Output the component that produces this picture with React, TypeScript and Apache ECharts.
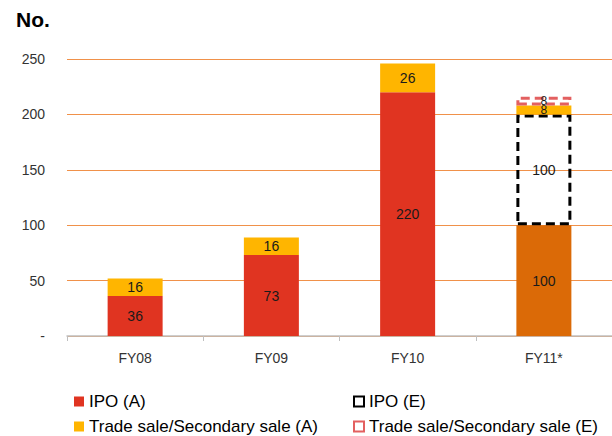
import React, { useEffect, useRef } from "react";
import * as echarts from "echarts";

const categories = ["FY08", "FY09", "FY10", "FY11*"];
const ipoActual = [36, 73, 220, 100];
const ipoEstimate = [null, null, null, 100];
const tradeActual = [16, 16, 26, 8];
const tradeEstimate = [null, null, null, 8];
const yTicks = { min: 0, max: 250, interval: 50 };

const FONT = "Liberation Sans, Arial, sans-serif";
const RED = "#E03421";
const YELLOW = "#FFB500";
const DARK_ORANGE = "#DB6A07";

export default function App() {
  const ref = useRef<HTMLDivElement>(null);

  useEffect(() => {
    if (!ref.current) return;
    const chart = echarts.init(ref.current, null, { renderer: "svg" });

    const label = {
      show: true,
      position: "inside" as const,
      color: "#1a1a1a",
      fontSize: 14,
      fontFamily: FONT,
    };
    // thin FY11 segments get a smaller label so the two stacked values stay legible
    const smallLabel = { ...label, fontSize: 12, lineHeight: 12 };

    const legendBase = {
      orient: "vertical" as const,
      top: 393,
      height: 43,
      padding: 0,
      itemWidth: 10,
      itemHeight: 10,
      itemGap: 8,
      icon: "rect",
      textStyle: { fontSize: 17, lineHeight: 17, color: "#000", fontFamily: FONT },
    };

    chart.setOption({
      animation: false,
      textStyle: { fontFamily: FONT },
      title: {
        text: "No.",
        left: 16,
        top: 9,
        padding: 0,
        textStyle: { fontSize: 21, fontWeight: "bold", color: "#000", fontFamily: FONT },
      },
      grid: { left: 67, top: 59, width: 560, height: 277 },
      legend: [
        { ...legendBase, left: 74, data: ["IPO (A)", "Trade sale/Secondary sale (A)"] },
        { ...legendBase, left: 353, data: ["IPO (E)", "Trade sale/Secondary sale (E)"] },
      ],
      xAxis: {
        type: "category",
        data: categories,
        axisLine: { lineStyle: { color: "#BFBFBF", width: 1.5 } },
        axisTick: { show: true, length: 5, lineStyle: { color: "#BFBFBF" } },
        axisLabel: { color: "#333", fontSize: 14, margin: 15, fontFamily: FONT },
      },
      yAxis: {
        type: "value",
        min: yTicks.min,
        max: yTicks.max,
        interval: yTicks.interval,
        axisLine: { show: false },
        axisTick: { show: false },
        axisLabel: {
          color: "#333",
          fontSize: 14,
          margin: 22,
          fontFamily: FONT,
          formatter: (v: number) => (v === 0 ? "-" : String(v)),
        },
        splitLine: { lineStyle: { color: "#F0914A", width: 1.2 } },
      },
      series: [
        {
          name: "IPO (A)",
          type: "bar",
          stack: "total",
          barWidth: 55,
          itemStyle: { color: RED },
          label,
          data: ipoActual.map((v, i) =>
            i === 3 ? { value: v, itemStyle: { color: DARK_ORANGE } } : v
          ),
        },
        {
          name: "IPO (E)",
          type: "bar",
          stack: "total",
          itemStyle: {
            color: "rgba(255,255,255,0)",
            borderColor: "#000",
            borderWidth: 3,
            borderType: [9, 5],
          },
          label,
          data: ipoEstimate.map((v) => (v === null ? "-" : v)),
        },
        {
          name: "Trade sale/Secondary sale (A)",
          type: "bar",
          stack: "total",
          itemStyle: { color: YELLOW },
          label,
          data: tradeActual.map((v, i) => (i === 3 ? { value: v, label: smallLabel } : v)),
        },
        {
          name: "Trade sale/Secondary sale (E)",
          type: "bar",
          stack: "total",
          itemStyle: {
            color: "rgba(255,255,255,0)",
            borderColor: "#E36060",
            borderWidth: 3,
            borderType: [9, 5],
          },
          label: smallLabel,
          data: tradeEstimate.map((v) => (v === null ? "-" : v)),
        },
      ],
    });

    return () => chart.dispose();
  }, []);

  return (
    <div
      ref={ref}
      style={{ position: "absolute", left: 0, top: 0, width: 612, height: 436 }}
    />
  );
}
